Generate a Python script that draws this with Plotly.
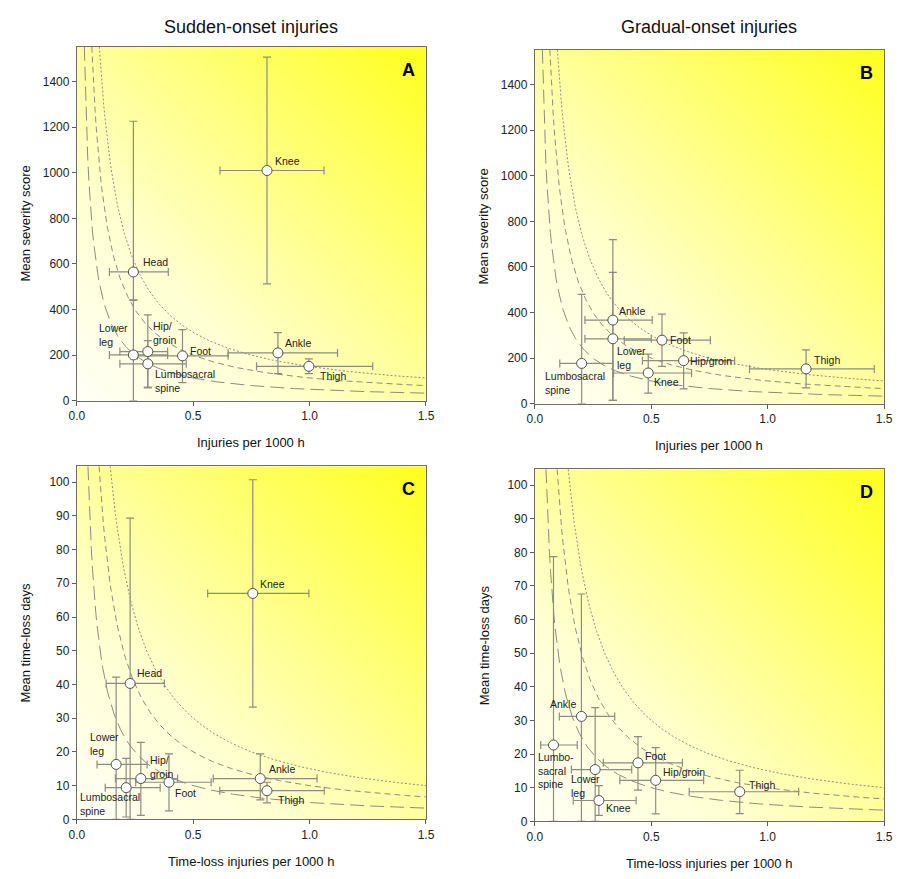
import numpy as np
import plotly.graph_objects as go
from plotly.subplots import make_subplots

# ---------------- data ----------------
# Panel A: sudden-onset, severity score vs incidence
names_A = ["Knee", "Head", "Lower leg", "Hip/groin", "Lumbosacral spine", "Foot", "Ankle", "Thigh"]
text_A = ["Knee", "Head", "Lower<br>leg", "Hip/<br>groin", "Lumbosacral<br>spine", "Foot", "Ankle", "Thigh"]
x_A = [0.817, 0.243, 0.243, 0.305, 0.305, 0.454, 0.864, 0.997]
xlo_A = [0.615, 0.140, 0.140, 0.185, 0.185, 0.260, 0.650, 0.772]
xhi_A = [1.062, 0.393, 0.390, 0.390, 0.470, 0.650, 1.120, 1.271]
y_A = [1010, 565, 201, 216, 162, 197, 210, 151]
ylo_A = [513, 443, 0, 60, 57, 80, 119, 119]
yhi_A = [1507, 1226, 440, 377, 264, 312, 299, 184]

# Panel B: gradual-onset, severity score vs incidence
names_B = ["Ankle", "Lower leg", "Foot", "Hip/groin", "Knee", "Lumbosacral spine", "Thigh"]
text_B = ["Ankle", "Lower<br>leg", "Foot", "Hip/groin", "Knee", "Lumbosacral<br>spine", "Thigh"]
x_B = [0.335, 0.335, 0.546, 0.639, 0.487, 0.201, 1.165]
xlo_B = [0.215, 0.215, 0.384, 0.462, 0.338, 0.107, 0.922]
xhi_B = [0.504, 0.500, 0.754, 0.858, 0.673, 0.335, 1.458]
y_B = [367, 285, 279, 189, 135, 177, 153]
ylo_B = [15, 15, 164, 65, 47, 0, 70]
yhi_B = [720, 576, 393, 311, 218, 480, 236]

# Panel C: sudden-onset, time-loss days vs time-loss incidence
names_C = ["Knee", "Head", "Lower leg", "Hip/groin", "Lumbosacral spine", "Foot", "Ankle", "Thigh"]
text_C = ["Knee", "Head", "Lower<br>leg", "Hip/<br>groin", "Lumbosacral<br>spine", "Foot", "Ankle", "Thigh"]
x_C = [0.756, 0.229, 0.169, 0.275, 0.212, 0.396, 0.788, 0.817]
xlo_C = [0.562, 0.126, 0.087, 0.166, 0.122, 0.253, 0.586, 0.614]
xhi_C = [0.997, 0.376, 0.302, 0.433, 0.358, 0.577, 1.032, 1.063]
y_C = [67.0, 40.3, 16.3, 12.1, 9.4, 11.0, 12.1, 8.5]
ylo_C = [33.3, 0, 0, 1.2, 0.7, 2.5, 5.8, 4.9]
yhi_C = [100.7, 89.3, 42.2, 22.8, 18.1, 19.4, 19.4, 11.0]

# Panel D: gradual-onset, time-loss days vs time-loss incidence
names_D = ["Ankle", "Lumbosacral spine", "Lower leg", "Knee", "Foot", "Hip/groin", "Thigh"]
text_D = ["Ankle", "Lumbo-<br>sacral<br>spine", "Lower<br>leg", "Knee", "Foot", "Hip/groin", "Thigh"]
x_D = [0.200, 0.080, 0.259, 0.275, 0.443, 0.519, 0.880]
xlo_D = [0.105, 0.025, 0.157, 0.165, 0.294, 0.365, 0.663]
xhi_D = [0.343, 0.182, 0.416, 0.435, 0.634, 0.725, 1.133]
y_D = [31.2, 22.7, 15.4, 6.2, 17.4, 12.2, 8.8]
ylo_D = [0, 0, 0, 1.8, 9.3, 2.2, 2.3]
yhi_D = [67.6, 78.7, 33.8, 10.6, 25.2, 21.9, 15.2]

# iso-burden reference curves (burden = incidence x severity)
burden_AB = [50, 100, 150]
burden_CD = [5, 10, 15]

x_ticks = [0.0, 0.5, 1.0, 1.5]
y_ticks_AB = [0, 200, 400, 600, 800, 1000, 1200, 1400]
y_ticks_CD = [0, 10, 20, 30, 40, 50, 60, 70, 80, 90, 100]

col_titles = ["Sudden-onset injuries", "Gradual-onset injuries"]
panel_letters = ["A", "B", "C", "D"]
x_titles = ["Injuries per 1000 h", "Injuries per 1000 h",
            "Time-loss injuries per 1000 h", "Time-loss injuries per 1000 h"]
y_titles = ["Mean severity score", "Mean severity score",
            "Mean time-loss days", "Mean time-loss days"]

# ---------------- style ----------------
PAGE_MARGIN = 8           # default body margin of the html page
W, H = 904 - 2 * PAGE_MARGIN, 879 - 2 * PAGE_MARGIN
FONT = "Liberation Sans, Arial, sans-serif"
XMAX = 1.5
YMAX_AB = 1553
YMAX_CD = 104.7
curve_dash = ["14px,6px", "6px,4px", "2px,2px"]

# label placement: (xanchor, xshift px, yshift px up)
lab_A = {"Knee": ("left", 6, 9), "Head": ("left", 8, 10), "Lower leg": ("right", -3, 20),
         "Hip/groin": ("left", 3, 19), "Lumbosacral spine": ("left", 5, -17), "Foot": ("left", 5, 5),
         "Ankle": ("left", 5, 10), "Thigh": ("left", 9, -10)}
lab_B = {"Ankle": ("left", 4, 9), "Lower leg": ("left", 2, -19), "Foot": ("left", 6, 0),
         "Hip/groin": ("left", 4, 0), "Knee": ("left", 4, -9), "Lumbosacral spine": ("left", -39, -20),
         "Thigh": ("left", 6, 9)}
lab_C = {"Knee": ("left", 5, 9), "Head": ("left", 5, 10), "Lower leg": ("left", -28, 20),
         "Hip/groin": ("left", 7, 12), "Lumbosacral spine": ("left", -48, -16), "Foot": ("left", 4, -11),
         "Ankle": ("left", 7, 10), "Thigh": ("left", 9, -9)}
lab_D = {"Ankle": ("right", -3, 12), "Lumbosacral spine": ("left", -17, -25), "Lower leg": ("left", -26, -16),
         "Knee": ("left", 5, -8), "Foot": ("left", 5, 7), "Hip/groin": ("left", 5, 8),
         "Thigh": ("left", 7, 7)}

# plot areas in window pixels (left, right, top, bottom)
areas_win = [(70, 426, 47, 404), (537, 893, 50, 407), (70, 426, 470, 826), (537, 893, 473, 828)]
areas = [tuple(v - PAGE_MARGIN for v in a) for a in areas_win]

fig = make_subplots(rows=2, cols=2)

panels = [
    (names_A, text_A, x_A, xlo_A, xhi_A, y_A, ylo_A, yhi_A, burden_AB, YMAX_AB, y_ticks_AB, lab_A),
    (names_B, text_B, x_B, xlo_B, xhi_B, y_B, ylo_B, yhi_B, burden_AB, YMAX_AB, y_ticks_AB, lab_B),
    (names_C, text_C, x_C, xlo_C, xhi_C, y_C, ylo_C, yhi_C, burden_CD, YMAX_CD, y_ticks_CD, lab_C),
    (names_D, text_D, x_D, xlo_D, xhi_D, y_D, ylo_D, yhi_D, burden_CD, YMAX_CD, y_ticks_CD, lab_D),
]

bg_scale = [[0.0, "rgb(255,255,246)"], [0.3, "rgb(255,255,210)"], [0.5, "rgb(255,255,160)"],
            [0.75, "rgb(255,255,95)"], [1.0, "rgb(255,255,30)"]]

annotations = []
for i, (nm, tx, xs, xlo, xhi, ys, ylo, yhi, burdens, ymax, yt, lab) in enumerate(panels):
    r, c = i // 2 + 1, i % 2 + 1
    sfx = "" if i == 0 else str(i + 1)
    # gradient background
    gx = np.linspace(0, XMAX, 41)
    gy = np.linspace(0, ymax, 41)
    GX, GY = np.meshgrid(gx, gy)
    GZ = (GX / XMAX + GY / ymax) / 2
    fig.add_trace(go.Heatmap(x=gx, y=gy, z=GZ, colorscale=bg_scale, zmin=0, zmax=1,
                             zsmooth="best", showscale=False, hoverinfo="skip"), row=r, col=c)
    # iso-burden curves
    for k, d in zip(burdens, curve_dash):
        cx = np.linspace(k / ymax, XMAX, 300)
        fig.add_trace(go.Scatter(x=cx, y=k / cx, mode="lines",
                                 line=dict(color="rgb(140,140,125)", width=1, dash=d),
                                 hoverinfo="skip", showlegend=False), row=r, col=c)
    # points with error bars
    fig.add_trace(go.Scatter(
        x=xs, y=ys, mode="markers", text=nm, showlegend=False,
        marker=dict(size=10, color="white", line=dict(color="rgb(80,80,80)", width=1)),
        error_x=dict(type="data", symmetric=False,
                     array=[h - v for h, v in zip(xhi, xs)],
                     arrayminus=[v - l for l, v in zip(xlo, xs)],
                     color="rgb(140,140,130)", thickness=1.2, width=4),
        error_y=dict(type="data", symmetric=False,
                     array=[h - v for h, v in zip(yhi, ys)],
                     arrayminus=[v - l for l, v in zip(ylo, ys)],
                     color="rgb(140,140,130)", thickness=1.2, width=4),
    ), row=r, col=c)
    # point labels
    for n, t, xv, yv in zip(nm, tx, xs, ys):
        xa, dx, dy = lab[n]
        annotations.append(dict(x=xv, y=yv, xref="x" + sfx, yref="y" + sfx, text=t,
                                showarrow=False, xanchor=xa, yanchor="middle", align="left",
                                xshift=dx, yshift=dy,
                                font=dict(family=FONT, size=10.5, color="#222")))
    # axes
    L, R, T, B = areas[i]
    fig.update_xaxes(domain=[L / W, R / W], range=[0, XMAX], tickvals=x_ticks,
                     tickformat=".1f", row=r, col=c)
    fig.update_yaxes(domain=[1 - B / H, 1 - T / H], range=[0, ymax], tickvals=yt,
                     row=r, col=c)
    # panel letter
    annotations.append(dict(x=(R - 9) / W, y=1 - (T + 11) / H, xref="paper", yref="paper",
                            text="<b>" + panel_letters[i] + "</b>", showarrow=False,
                            xanchor="right", yanchor="top",
                            font=dict(family=FONT, size=18, color="black")))
    # axis titles
    annotations.append(dict(x=(L + R) / 2 / W, y=1 - (B + 42) / H, xref="paper", yref="paper",
                            text=x_titles[i], showarrow=False, xanchor="center", yanchor="middle",
                            font=dict(family=FONT, size=13, color="#111")))
    annotations.append(dict(x=(L - 52) / W, y=1 - (T + B) / 2 / H, xref="paper", yref="paper",
                            text=y_titles[i], showarrow=False, textangle=-90,
                            xanchor="center", yanchor="middle",
                            font=dict(family=FONT, size=13, color="#111")))

# column titles
for j, ct in enumerate(col_titles):
    L, R, T, B = areas[j]
    annotations.append(dict(x=(L + R) / 2 / W, y=1 - (27 - PAGE_MARGIN) / H, xref="paper", yref="paper",
                            text=ct, showarrow=False, xanchor="center", yanchor="middle",
                            font=dict(family=FONT, size=18, color="#111")))

axis_style = dict(showgrid=False, zeroline=False, showline=True, linecolor="rgb(110,110,100)",
                  linewidth=1, mirror=True, ticks="outside", ticklen=4, tickcolor="rgb(90,90,90)",
                  tickfont=dict(family=FONT, size=12, color="#222"))
fig.update_xaxes(**axis_style)
fig.update_yaxes(**axis_style)

fig.update_layout(width=W, height=H, margin=dict(l=0, r=0, t=0, b=0),
                  paper_bgcolor="white", plot_bgcolor="white", showlegend=False,
                  annotations=annotations, font=dict(family=FONT))

fig.write_html("out.html")
